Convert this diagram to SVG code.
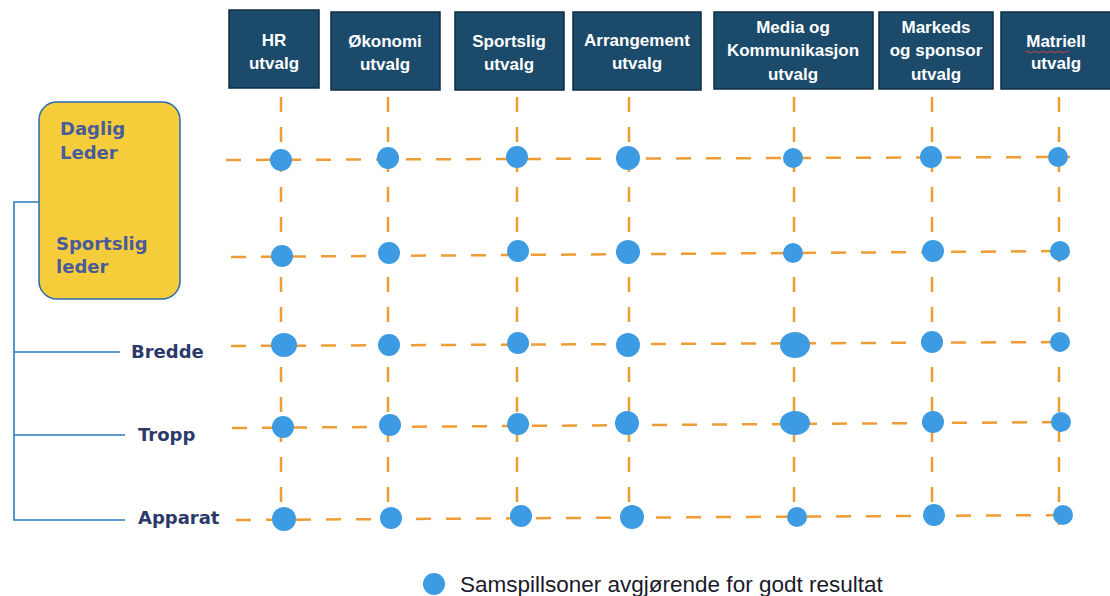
<svg xmlns="http://www.w3.org/2000/svg" width="1110" height="596" viewBox="0 0 1110 596">
<style>
.hdr{fill:#1b4a6b;stroke:#0f2e45;stroke-width:1.5}
.ht{font-family:"Liberation Sans",Arial,sans-serif;font-weight:bold;font-size:17px;fill:#ffffff;text-anchor:middle}
.dash{stroke:#ee9c34;stroke-width:2.5;fill:none;stroke-dasharray:15 15}
.dot{fill:#3d9be3}
.br{stroke:#2a7fc0;stroke-width:1.6;fill:none}
.lbl{font-family:"DejaVu Sans",Verdana,sans-serif;font-weight:bold;font-size:18px;fill:#2b3a6b}
.ylbl{font-family:"DejaVu Sans",Verdana,sans-serif;font-weight:bold;font-size:18px;fill:#4a5b9c}
</style>
<rect width="1110" height="596" fill="#ffffff"/>
<g id="hr"><rect class="hdr" x="229" y="10" width="90" height="78"/><text class="ht" x="274" y="46">HR</text><text class="ht" x="274" y="69">utvalg</text></g>
<g id="okonomi"><rect class="hdr" x="331" y="12" width="109" height="78"/><text class="ht" x="385" y="47">Økonomi</text><text class="ht" x="385" y="70">utvalg</text></g>
<g id="sportslig"><rect class="hdr" x="455" y="12" width="109" height="78"/><text class="ht" x="509" y="47">Sportslig</text><text class="ht" x="509" y="70">utvalg</text></g>
<g id="arrangement"><rect class="hdr" x="573" y="12" width="128" height="78"/><text class="ht" x="637" y="46">Arrangement</text><text class="ht" x="637" y="69">utvalg</text></g>
<g id="media"><rect class="hdr" x="714" y="12" width="159" height="77"/><text class="ht" x="793" y="33">Media og</text><text class="ht" x="793" y="56">Kommunikasjon</text><text class="ht" x="793" y="80">utvalg</text></g>
<g id="markeds"><rect class="hdr" x="879" y="12" width="114" height="77"/><text class="ht" x="936" y="33">Markeds</text><text class="ht" x="936" y="56">og sponsor</text><text class="ht" x="936" y="80">utvalg</text></g>
<g id="matriell"><rect class="hdr" x="1001" y="12" width="112" height="77"/><text class="ht" x="1056" y="47">Matriell</text><text class="ht" x="1056" y="69">utvalg</text><path d="M1025 52 q2 -2 4 0 t4 0 t4 0 t4 0 t4 0 t4 0 t4 0 t4 0 t4 0 t4 0 t4 0" stroke="#d04040" stroke-width="1" fill="none"/></g>
<g id="leaders"><rect x="39" y="102" width="141" height="197" rx="18" fill="#f5cd3a" stroke="#2a6ab0" stroke-width="1.5"/><text class="ylbl" x="60" y="135">Daglig</text><text class="ylbl" x="60" y="159">Leder</text><text class="ylbl" x="56" y="250">Sportslig</text><text class="ylbl" x="56" y="273">leder</text></g>
<g id="connectors">
<path class="br" d="M39 202 H14 V520 H125 M14 352 H120 M14 435 H125"/>
<path class="dash" d="M226 160 L1070 157"/>
<path class="dash" d="M231 257 L1070 251"/>
<path class="dash" d="M231 346 L1070 342"/>
<path class="dash" d="M232 428 L1070 422"/>
<path class="dash" d="M236 520 L1070 515"/>
<path class="dash" d="M281 97 V525"/>
<path class="dash" d="M388 97 V525"/>
<path class="dash" d="M517 97 V525"/>
<path class="dash" d="M629 97 V525"/>
<path class="dash" d="M794 97 V525"/>
<path class="dash" d="M932 97 V525"/>
<path class="dash" d="M1059 97 V525"/>
</g>
<g id="rows"><text class="lbl" x="131" y="358">Bredde</text><text class="lbl" x="138" y="441">Tropp</text><text class="lbl" x="138" y="524">Apparat</text></g>
<g id="dots">
<circle class="dot" cx="281" cy="160" r="11"/><circle class="dot" cx="388" cy="158" r="11"/><circle class="dot" cx="517" cy="157" r="11"/><ellipse class="dot" cx="628" cy="158" rx="12" ry="12"/><circle class="dot" cx="793" cy="158" r="10"/><circle class="dot" cx="931" cy="157" r="11"/><circle class="dot" cx="1058" cy="157" r="10"/>
<circle class="dot" cx="282" cy="256" r="11"/><circle class="dot" cx="389" cy="253" r="11"/><circle class="dot" cx="518" cy="251" r="11"/><circle class="dot" cx="628" cy="252" r="12"/><circle class="dot" cx="793" cy="253" r="10"/><circle class="dot" cx="933" cy="251" r="11"/><circle class="dot" cx="1060" cy="251" r="10"/>
<ellipse class="dot" cx="284" cy="345" rx="13" ry="12"/><circle class="dot" cx="389" cy="345" r="11"/><circle class="dot" cx="518" cy="343" r="11"/><circle class="dot" cx="628" cy="345" r="12"/><ellipse class="dot" cx="795" cy="345" rx="15" ry="13"/><circle class="dot" cx="932" cy="342" r="11"/><circle class="dot" cx="1060" cy="342" r="10"/>
<circle class="dot" cx="283" cy="427" r="11"/><circle class="dot" cx="390" cy="425" r="11"/><circle class="dot" cx="518" cy="424" r="11"/><circle class="dot" cx="627" cy="423" r="12"/><ellipse class="dot" cx="795" cy="423" rx="15" ry="12"/><circle class="dot" cx="933" cy="422" r="11"/><circle class="dot" cx="1061" cy="422" r="10"/>
<circle class="dot" cx="284" cy="519" r="12"/><circle class="dot" cx="391" cy="518" r="11"/><circle class="dot" cx="521" cy="516" r="11"/><circle class="dot" cx="632" cy="517" r="12"/><circle class="dot" cx="797" cy="517" r="10"/><circle class="dot" cx="934" cy="515" r="11"/><circle class="dot" cx="1063" cy="515" r="10"/>
</g>
<g id="legend"><circle class="dot" cx="434" cy="584" r="11"/><text x="460" y="592" font-family="Liberation Sans, Arial, sans-serif" font-size="22.5" fill="#1a1a2a">Samspillsoner avgjørende for godt resultat</text></g>
</svg>
